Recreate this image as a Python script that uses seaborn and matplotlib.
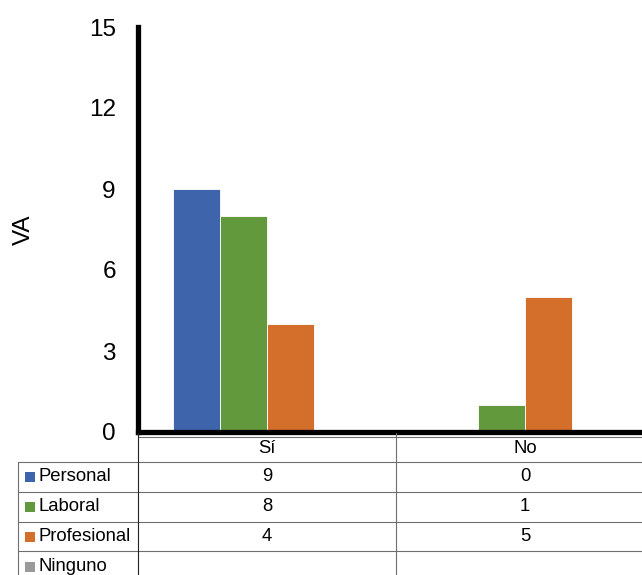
import numpy as np
import pandas as pd
import matplotlib
matplotlib.use("Agg")
import matplotlib.pyplot as plt
import matplotlib.transforms as mtransforms
from matplotlib.lines import Line2D
from matplotlib.patches import Rectangle
import seaborn as sns

# ---- data ----
categories = ["Sí", "No"]
series = ["Personal", "Laboral", "Profesional", "Ninguno"]
personal = [9, 0]
laboral = [8, 1]
profesional = [4, 5]
ninguno = [np.nan, np.nan]
colors = ["#3E64AC", "#63993D", "#D46E2B", "#9A9A9A"]
y_ticks = [0, 3, 6, 9, 12, 15]
y_label = "VA"

values = {"Personal": personal, "Laboral": laboral,
          "Profesional": profesional, "Ninguno": ninguno}
rows = []
for s in series:
    for c, v in zip(categories, values[s]):
        rows.append({"cat": c, "serie": s, "val": v})
df = pd.DataFrame(rows)

sns.set_theme(style="white")
plt.rcParams["font.family"] = ["Liberation Sans", "DejaVu Sans"]

W, H = 642, 575
fig = plt.figure(figsize=(W / 100, H / 100), dpi=100)
fx = lambda px: px / W
fy = lambda py: 1 - py / H

ax_left, ax_right, ax_top, ax_bot = 138, 654, 27, 432
ax = fig.add_axes([fx(ax_left), fy(ax_bot), (ax_right - ax_left) / W, (ax_bot - ax_top) / H])

sns.barplot(data=df.dropna(), x="cat", y="val", hue="serie", order=categories,
            hue_order=series, palette=colors, saturation=1, width=188 / 258,
            edgecolor="#ffffff", linewidth=0.6, ax=ax, legend=False)

ax.set_xlim(-0.5, len(categories) - 0.5)
ax.set_ylim(0, 15)
ax.set_yticks(y_ticks)
ax.set_yticklabels([str(t) for t in y_ticks], fontsize=17.5, color="black")
ax.tick_params(axis="y", length=0, pad=16)
ax.set_xticks([])
ax.set_xlabel("")
ax.set_ylabel(y_label, fontsize=17.5, color="black")
ax.yaxis.set_label_coords((35 - ax_left) / (ax_right - ax_left), 0.5)
for s in ["top", "right"]:
    ax.spines[s].set_visible(False)
for s in ["left", "bottom"]:
    ax.spines[s].set_color("black")
    ax.spines[s].set_linewidth(3.8)
    ax.spines[s].set_zorder(5)
ax.spines["left"].set_capstyle("projecting")

# ---- data table ----
blend = mtransforms.blended_transform_factory(ax.transData, fig.transFigure)
grid_c = "#6e6e6e"
lw = 0.8
fs = 13.3
row_lines = [462, 491.5, 521.5, 551]
for yl in row_lines:
    fig.add_artist(Line2D([fx(18), 1], [fy(yl), fy(yl)], transform=fig.transFigure,
                          color=grid_c, lw=lw))
fig.add_artist(Line2D([fx(138), 1], [fy(436.5), fy(436.5)], transform=fig.transFigure,
                      color=grid_c, lw=lw))
fig.add_artist(Line2D([fx(18), fx(18)], [fy(462), 0], transform=fig.transFigure,
                      color=grid_c, lw=lw))
for i in range(len(categories) + 1):
    xb = i - 0.5
    fig.add_artist(Line2D([xb, xb], [fy(433), 0], transform=blend,
                          color=grid_c if i > 0 else "#222222", lw=lw))

for i, c in enumerate(categories):
    fig.text(i, fy(448.3), c, transform=blend, ha="center", va="center",
             fontsize=fs, color="black")

row_centers = [476.7, 506.7, 536.7, 566.7]
for s, col, yc in zip(series, colors, row_centers):
    fig.add_artist(Rectangle((fx(25), fy(yc + 5)), 10 / W, 10 / H,
                             transform=fig.transFigure, color=col, lw=0))
    fig.text(fx(38.5), fy(yc), s, ha="left", va="center", fontsize=fs, color="black")
    for i, v in enumerate(values[s]):
        if not pd.isna(v):
            fig.text(i, fy(yc), f"{v:g}", transform=blend, ha="center", va="center",
                     fontsize=fs, color="black")

fig.savefig("out.png", dpi=100)
